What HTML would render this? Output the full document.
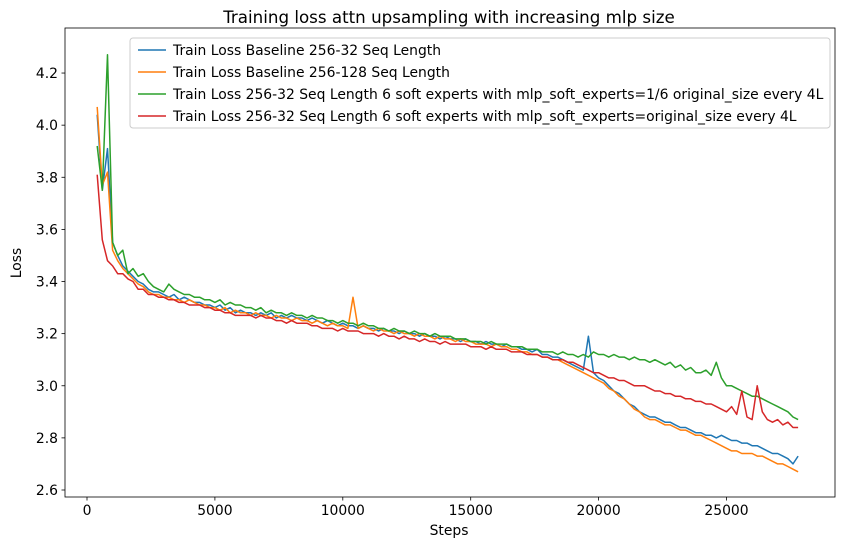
<!DOCTYPE html>
<html><head><meta charset="utf-8"><style>
body{margin:0;background:#fff;}
svg{font-family:"DejaVu Sans","Liberation Sans",sans-serif;}
</style></head><body>
<svg id="chart" width="846" height="547" xmlns="http://www.w3.org/2000/svg">
<rect width="846" height="547" fill="#fff"/>
<text x="449" y="23" text-anchor="middle" font-size="16.7">Training loss attn upsampling with increasing mlp size</text>
<g id="plot"></g>
<text x="449" y="535" text-anchor="middle" font-size="13.9">Steps</text>
<text x="21" y="263" text-anchor="middle" font-size="13.9" transform="rotate(-90 21 263)">Loss</text>
</svg>
<script>
const xTicks=[0,5000,10000,15000,20000,25000];
const yTicks=[2.6,2.8,3.0,3.2,3.4,3.6,3.8,4.0,4.2];
const seriesNames=["Train Loss Baseline 256-32 Seq Length","Train Loss Baseline 256-128 Seq Length","Train Loss 256-32 Seq Length 6 soft experts with mlp_soft_experts=1/6 original_size every 4L","Train Loss 256-32 Seq Length 6 soft experts with mlp_soft_experts=original_size every 4L"];
const colors=["#1f77b4","#ff7f0e","#2ca02c","#d62728"];
const stepStart=400, stepSize=200;
const blue=[4.04,3.75,3.91,3.55,3.50,3.46,3.44,3.42,3.40,3.39,
3.37,3.36,3.36,3.35,3.34,3.35,3.33,3.34,3.33,3.32,
3.32,3.31,3.31,3.30,3.31,3.29,3.30,3.28,3.29,3.28,
3.28,3.27,3.28,3.27,3.28,3.26,3.27,3.26,3.27,3.26,
3.26,3.25,3.26,3.25,3.24,3.25,3.24,3.23,3.24,3.23,
3.23,3.22,3.23,3.22,3.22,3.21,3.22,3.21,3.21,3.20,
3.21,3.20,3.20,3.19,3.20,3.19,3.19,3.18,3.19,3.18,
3.18,3.17,3.18,3.17,3.17,3.16,3.17,3.16,3.16,3.15,
3.16,3.15,3.15,3.14,3.14,3.13,3.14,3.12,3.12,3.11,
3.11,3.10,3.09,3.08,3.07,3.06,3.19,3.05,3.03,3.02,
3.00,2.98,2.97,2.95,2.93,2.92,2.90,2.89,2.88,2.88,
2.87,2.86,2.86,2.85,2.84,2.84,2.83,2.82,2.82,2.81,
2.81,2.80,2.81,2.80,2.79,2.79,2.78,2.78,2.77,2.77,
2.76,2.75,2.74,2.74,2.73,2.72,2.70,2.73];
const orange=[4.07,3.77,3.82,3.52,3.48,3.45,3.43,3.41,3.39,3.38,
3.36,3.35,3.35,3.34,3.34,3.33,3.33,3.32,3.33,3.32,
3.31,3.31,3.30,3.30,3.29,3.30,3.28,3.29,3.28,3.28,
3.27,3.28,3.27,3.27,3.26,3.27,3.26,3.26,3.25,3.26,
3.25,3.25,3.24,3.25,3.24,3.23,3.24,3.23,3.23,3.22,
3.34,3.22,3.23,3.22,3.21,3.22,3.21,3.21,3.20,3.21,
3.20,3.20,3.19,3.20,3.19,3.19,3.18,3.19,3.18,3.18,
3.17,3.18,3.17,3.17,3.16,3.16,3.16,3.15,3.16,3.15,
3.15,3.14,3.14,3.13,3.13,3.12,3.12,3.11,3.11,3.10,
3.10,3.09,3.08,3.07,3.06,3.05,3.04,3.03,3.02,3.01,
2.99,2.98,2.96,2.95,2.93,2.91,2.90,2.88,2.87,2.87,
2.86,2.85,2.85,2.84,2.83,2.83,2.82,2.81,2.81,2.80,
2.79,2.78,2.77,2.76,2.75,2.75,2.74,2.74,2.74,2.73,
2.73,2.72,2.71,2.70,2.70,2.69,2.68,2.67];
const green=[3.92,3.75,4.27,3.55,3.50,3.52,3.43,3.45,3.42,3.43,
3.40,3.38,3.37,3.36,3.39,3.37,3.36,3.35,3.35,3.34,
3.34,3.33,3.33,3.32,3.33,3.31,3.32,3.31,3.31,3.30,
3.30,3.29,3.30,3.28,3.29,3.28,3.28,3.27,3.28,3.27,
3.27,3.26,3.27,3.26,3.26,3.25,3.25,3.24,3.25,3.24,
3.24,3.23,3.24,3.23,3.23,3.22,3.22,3.21,3.22,3.21,
3.21,3.20,3.21,3.20,3.20,3.19,3.20,3.19,3.19,3.19,
3.18,3.18,3.18,3.17,3.17,3.17,3.16,3.17,3.16,3.16,
3.16,3.15,3.15,3.15,3.14,3.14,3.14,3.13,3.13,3.13,
3.12,3.13,3.12,3.12,3.11,3.12,3.11,3.13,3.12,3.12,
3.11,3.12,3.11,3.11,3.10,3.11,3.10,3.10,3.09,3.10,
3.09,3.08,3.09,3.07,3.08,3.06,3.07,3.05,3.05,3.06,
3.04,3.09,3.03,3.00,3.00,2.99,2.98,2.97,2.96,2.96,
2.95,2.94,2.93,2.92,2.91,2.90,2.88,2.87];
const red=[3.81,3.56,3.48,3.46,3.43,3.43,3.41,3.40,3.37,3.37,
3.35,3.35,3.34,3.34,3.33,3.33,3.32,3.32,3.31,3.31,
3.31,3.30,3.30,3.29,3.29,3.28,3.28,3.27,3.27,3.27,
3.27,3.26,3.27,3.26,3.26,3.25,3.25,3.24,3.25,3.24,
3.24,3.24,3.23,3.23,3.22,3.22,3.22,3.21,3.22,3.21,
3.21,3.21,3.20,3.20,3.20,3.19,3.20,3.19,3.19,3.18,
3.19,3.18,3.18,3.17,3.18,3.17,3.17,3.16,3.17,3.16,
3.16,3.16,3.16,3.15,3.15,3.15,3.14,3.15,3.14,3.14,
3.14,3.13,3.13,3.13,3.12,3.12,3.12,3.11,3.11,3.10,
3.10,3.10,3.09,3.09,3.08,3.07,3.06,3.05,3.05,3.04,
3.03,3.03,3.02,3.02,3.01,3.00,3.00,3.00,2.99,2.98,
2.98,2.97,2.97,2.96,2.96,2.95,2.95,2.94,2.94,2.93,
2.93,2.92,2.91,2.90,2.92,2.89,2.98,2.88,2.87,3.00,
2.90,2.87,2.86,2.87,2.85,2.86,2.84,2.84];
const allSeries=[blue,orange,green,red];

const L=65,R=835,T=28,B=497;
const xS=v=>87+v*0.02558;
const yS=v=>490-(v-2.6)*260.6;
const NS="http://www.w3.org/2000/svg";
const plot=document.getElementById('plot');
function mk(tag,attrs,parent){const e=document.createElementNS(NS,tag);for(const k in attrs)e.setAttribute(k,attrs[k]);(parent||plot).appendChild(e);return e;}

allSeries.forEach((s,si)=>{
  const pts=s.map((v,i)=>xS(stepStart+i*stepSize).toFixed(1)+","+yS(v).toFixed(1)).join(" ");
  const pl=mk('polyline',{points:pts,fill:'none',stroke:colors[si],'stroke-width':1.5,'stroke-linejoin':'round'});
  
  
});
const frame=mk('rect',{x:L,y:T,width:R-L,height:B-T,fill:'none',stroke:'#000','stroke-width':0.8});


xTicks.forEach(t=>{
  const x=xS(t);
  mk('line',{x1:x,x2:x,y1:B,y2:B+3.5,stroke:'#000','stroke-width':0.8});
  const tx=mk('text',{x:x,y:B+18,'text-anchor':'middle','font-size':13.9});
  tx.textContent=t;
  
  
});
yTicks.forEach(t=>{
  const y=yS(t);
  mk('line',{x1:L-3.5,x2:L,y1:y,y2:y,stroke:'#000','stroke-width':0.8});
  const tx=mk('text',{x:L-7,y:y+5,'text-anchor':'end','font-size':13.9});
  tx.textContent=t.toFixed(1);
  
  
});
const lg=mk('g',{});


mk('rect',{x:130,y:38,width:700,height:90,rx:3,fill:'#fff','fill-opacity':0.8,stroke:'#ccc','stroke-width':1},lg);
seriesNames.forEach((n,i)=>{
  const y=50+i*22;
  const g=mk('g',{},lg);
  
  
  mk('line',{x1:138,x2:166,y1:y,y2:y,stroke:colors[i],'stroke-width':1.5},g);
  const t=mk('text',{x:173,y:y+5,'font-size':13.9},g);
  t.textContent=n;
});
</script>
</body></html>
